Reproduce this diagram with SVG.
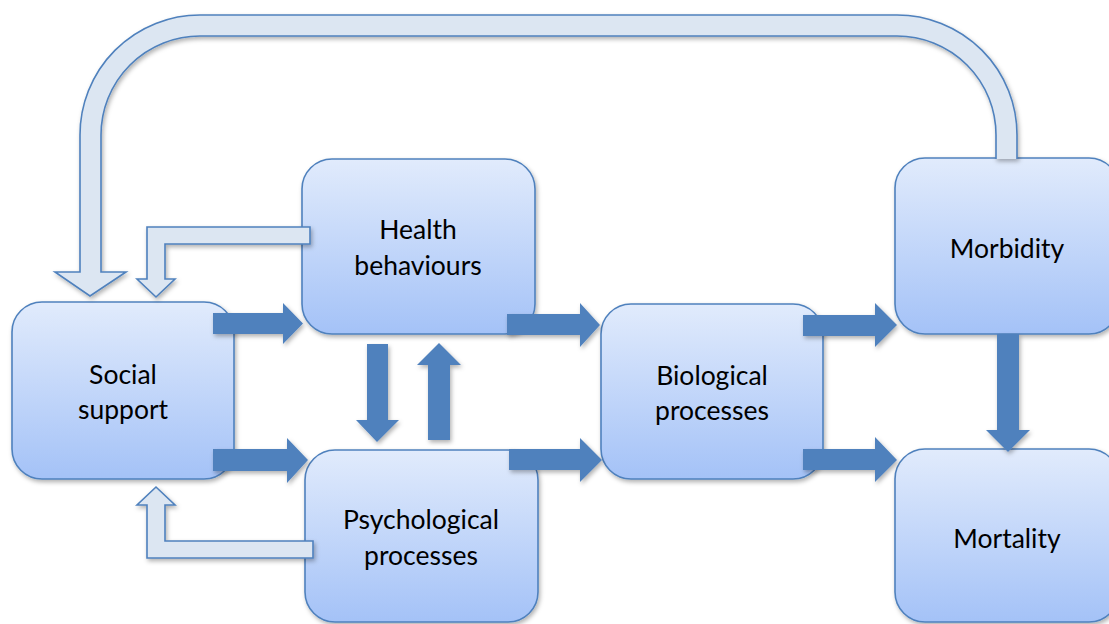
<svg xmlns="http://www.w3.org/2000/svg" width="1109" height="624" viewBox="0 0 1109 624">
  <defs>
    <linearGradient id="boxGrad" x1="0" y1="0" x2="0" y2="1">
      <stop offset="0" stop-color="#E1EBFC"/>
      <stop offset="1" stop-color="#A4C2F7"/>
    </linearGradient>
    <filter id="shadow" x="-10%" y="-10%" width="125%" height="130%">
      <feDropShadow dx="1.5" dy="2.5" stdDeviation="2" flood-color="#000" flood-opacity="0.3"/>
    </filter>
  </defs>
  <style>
    .box { fill: url(#boxGrad); stroke: #4F81BD; stroke-width: 1.6; filter: url(#shadow); }
    .lbl { font-family: Lato, "Liberation Sans", sans-serif; font-size: 26.5px; fill: #000; text-anchor: middle; }
    .solid { fill: #4F81BD; stroke: none; filter: url(#shadow); }
    .light { fill: #DCE6F2; stroke: #4F81BD; stroke-width: 1.6; stroke-linejoin: miter; filter: url(#shadow); }
  </style>
  <rect width="1109" height="624" fill="#fff"/>

  <g id="node-social-support">
    <rect class="box" x="12" y="302" width="222" height="177" rx="30" ry="30"/>
    <text class="lbl" x="123" y="384">Social</text>
    <text class="lbl" x="123" y="419">support</text>
  </g>
  <g id="node-health-behaviours">
    <rect class="box" x="302" y="159" width="233" height="175" rx="30" ry="30"/>
    <text class="lbl" x="418" y="239">Health</text>
    <text class="lbl" x="418" y="275">behaviours</text>
  </g>
  <g id="node-psychological-processes">
    <rect class="box" x="305" y="450" width="233" height="172" rx="30" ry="30"/>
    <text class="lbl" x="421" y="529">Psychological</text>
    <text class="lbl" x="421" y="565">processes</text>
  </g>
  <g id="node-biological-processes">
    <rect class="box" x="601" y="304" width="222" height="175" rx="30" ry="30"/>
    <text class="lbl" x="712" y="385">Biological</text>
    <text class="lbl" x="712" y="420">processes</text>
  </g>
  <g id="node-morbidity">
    <rect class="box" x="895" y="158" width="224" height="176" rx="30" ry="30"/>
    <text class="lbl" x="1007" y="258">Morbidity</text>
  </g>
  <g id="node-mortality">
    <rect class="box" x="895" y="449" width="224" height="173" rx="30" ry="30"/>
    <text class="lbl" x="1007" y="548">Mortality</text>
  </g>

  <g id="connectors">
    <!-- feedback: Morbidity -> Social support -->
    <path class="light" d="M 996 159 L 996 135 A 99 99 0 0 0 897 36 L 200 36 A 99 99 0 0 0 101 135 L 101 272 L 126 272 L 90 296 L 55 272 L 80 272 L 80 135 A 120 120 0 0 1 200 15 L 897 15 A 120 120 0 0 1 1017 135 L 1017 159"/>
    <!-- Health behaviours -> Social support -->
    <path class="light" d="M 310 227 L 147 227 L 147 279 L 137 279 L 156 297 L 175 279 L 165 279 L 165 244 L 310 244 Z"/>
    <!-- Psychological processes -> Social support -->
    <path class="light" d="M 313 541 L 165 541 L 165 505 L 175 505 L 156 487 L 137 505 L 147 505 L 147 558 L 313 558 Z"/>

    <!-- Social support -> Health behaviours -->
    <path class="solid" d="M 213 313 L 283 313 L 283 303 L 303 323.5 L 283 344 L 283 334 L 213 334 Z"/>
    <!-- Social support -> Psychological processes -->
    <path class="solid" d="M 213 449 L 287 449 L 287 438 L 308 460 L 287 483 L 287 471 L 213 471 Z"/>
    <!-- Health behaviours -> Biological processes -->
    <path class="solid" d="M 507 314 L 580 314 L 580 303 L 600 325 L 580 347 L 580 335 L 507 335 Z"/>
    <!-- Psychological processes -> Biological processes -->
    <path class="solid" d="M 509 449 L 580 449 L 580 438 L 602 460 L 580 482 L 580 470 L 509 470 Z"/>
    <!-- Biological processes -> Morbidity -->
    <path class="solid" d="M 803 315 L 875 315 L 875 303 L 897 325 L 875 347 L 875 336 L 803 336 Z"/>
    <!-- Biological processes -> Mortality -->
    <path class="solid" d="M 803 449 L 875 449 L 875 437 L 897 460 L 875 482 L 875 470 L 803 470 Z"/>
    <!-- Health behaviours -> Psychological processes -->
    <path class="solid" d="M 367 344 L 388 344 L 388 420 L 399 420 L 377 442 L 356 420 L 367 420 Z"/>
    <!-- Psychological processes -> Health behaviours -->
    <path class="solid" d="M 428 440 L 450 440 L 450 365 L 461 365 L 439 343 L 417 365 L 428 365 Z"/>
    <!-- Morbidity -> Mortality -->
    <path class="solid" d="M 997 334 L 1019 334 L 1019 430 L 1030 430 L 1008 452 L 986 430 L 997 430 Z"/>
  </g>
</svg>
